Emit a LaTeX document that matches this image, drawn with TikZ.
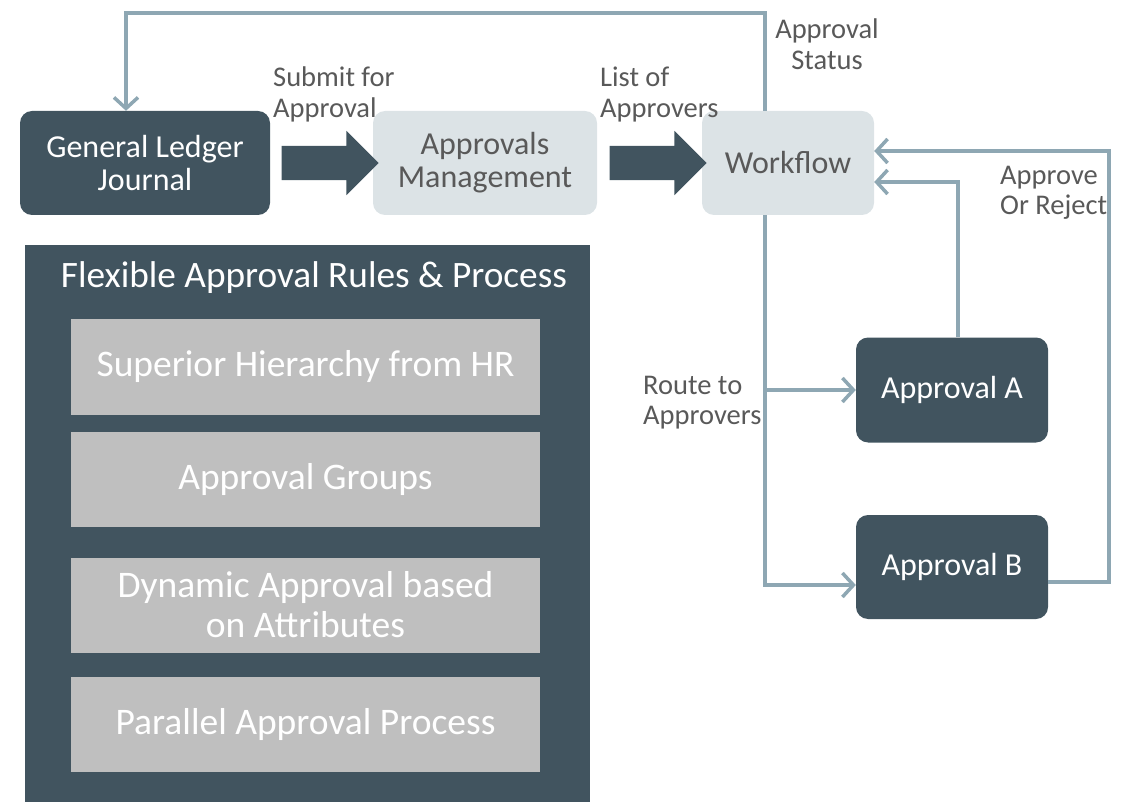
\documentclass[tikz,border=0pt]{standalone}
\usepackage{fontspec}
\setmainfont{Carlito}
\usepackage{tikz}
\usetikzlibrary{arrows.meta}
\usetikzlibrary{shapes.arrows}
\usetikzlibrary{calc}

\definecolor{slate}{HTML}{41545F}
\definecolor{mist}{HTML}{DCE3E6}
\definecolor{steel}{HTML}{8EA7B3}
\definecolor{ink}{HTML}{595959}
\definecolor{silver}{HTML}{BFBFBF}

\begin{document}
\begin{tikzpicture}[x=1pt, y=-1pt,
  darkbox/.style={fill=slate, text=white, rounded corners=12pt, align=center, inner sep=0pt, font=\fontsize{32}{33}\selectfont},
  lightbox/.style={fill=mist, text=ink, rounded corners=12pt, align=center, inner sep=0pt, font=\fontsize{32}{33}\selectfont},
  rulebox/.style={fill=silver, text=white, align=center, inner sep=0pt, minimum width=469pt, minimum height=95pt, font=\fontsize{37.5}{40}\selectfont},
  note/.style={text=ink, align=left, inner sep=0pt, anchor=north west, font=\fontsize{28.5}{30.5}\selectfont},
  feed/.style={draw=steel, line width=3.5pt},
  flow/.style={feed, -{Straight Barb[length=11pt, width=24pt, line width=3.5pt]}},
  bigarrow/.style={single arrow, fill=slate, inner sep=0pt, text height=17pt, text depth=17pt, minimum height=97pt, single arrow head extend=15pt, single arrow tip angle=90}]
    \useasboundingbox (0,0) rectangle (1127,802);
    %% Top row
    \node[darkbox, minimum width=250pt, minimum height=104pt] (gl) at (145,163) {General Ledger\\Journal};
    \node[lightbox, minimum width=224pt, minimum height=104pt] (am) at (485,163) {Approvals\\Management};
    \node[lightbox, minimum width=172pt, minimum height=104pt] (wf) at (788,163) {Workflow};
    \node[bigarrow] (submit) at ($(gl.east)!0.5!(am.west)$) {};
    \node[bigarrow] (list) at ($(am.east)!0.5!(wf.west)$) {};
    \node[note] (submitlbl) at (273,67) {Submit for\\Approval};
    \node[note] (listlbl) at (600,67) {List of\\Approvers};
    \node[note, align=center, anchor=north] (statuslbl) at (827,19) {Approval\\Status};
    %% Approvers
    \node[darkbox, minimum width=192pt, minimum height=105pt] (apa) at (952,390) {Approval A};
    \node[darkbox, minimum width=192pt, minimum height=104pt] (apb) at (952,567) {Approval B};
    \node[note] (routelbl) at (643,376) {Route to\\Approvers};
    \node[note] (decidelbl) at (1000,166) {Approve\\Or Reject};
    %% Connectors
    \draw[flow] ([xshift=-23pt]wf.north) -- ++(0,-98) -| ([xshift=-19pt]gl.north);
    \draw[flow] ([xshift=-23pt]wf.south) |- ([yshift=-18pt]apb.west);
    \draw[flow] ([xshift=-23pt]wf.south |- apa.west) -- (apa.west);
    \draw[flow] ([xshift=6pt]apa.north) |- ([yshift=-19pt]wf.east);
    \draw[flow] ([yshift=-15pt]apb.east) -- ++(61,0) |- ([yshift=12pt]wf.east);
    %% Rules panel
    \node[fill=slate, anchor=north west, inner sep=0pt, minimum width=565pt, minimum height=557pt] (panel) at (25,245) {};
    \node[text=white, inner sep=0pt, font=\fontsize{37.3}{40}\selectfont] (paneltitle) at (314,278) {Flexible Approval Rules \& Process};
    \node[rulebox] (hier) at (305.5,367) {Superior Hierarchy from HR};
    \node[rulebox] (groups) at (305.5,479.5) {Approval Groups};
    \node[rulebox] (dynamic) at (305.5,605) {Dynamic Approval based\\on Attributes};
    \node[rulebox] (parallel) at (305.5,724.5) {Parallel Approval Process};
\end{tikzpicture}
\end{document}
